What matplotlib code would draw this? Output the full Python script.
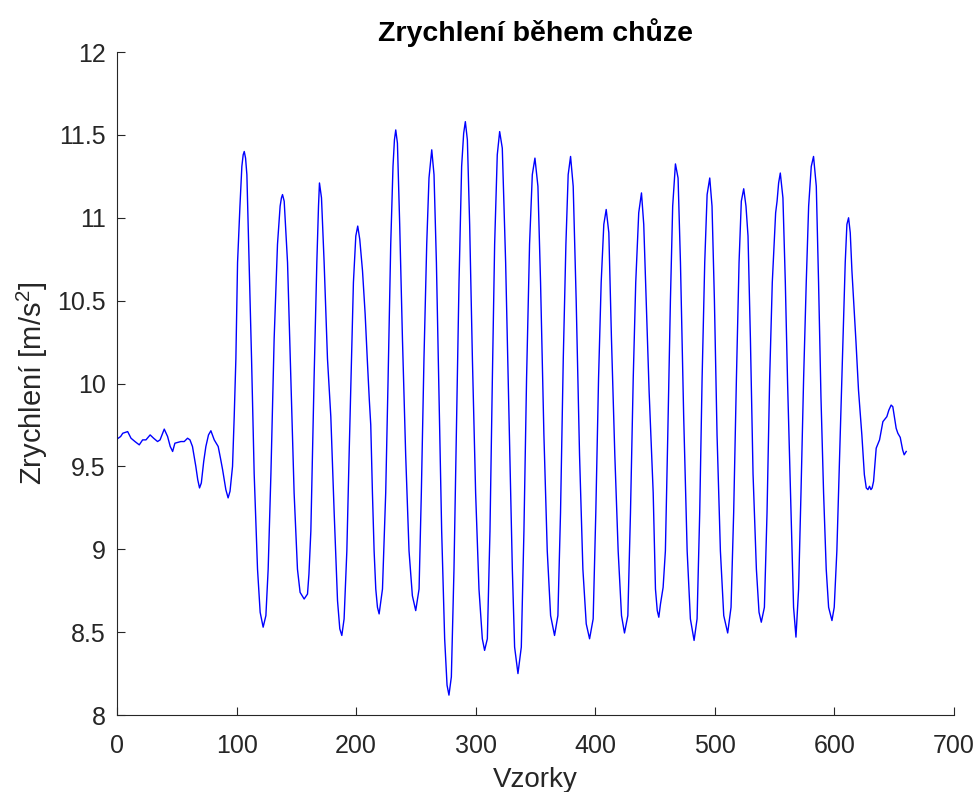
import numpy as np
import matplotlib
matplotlib.use("Agg")
import matplotlib.pyplot as plt

plt.rcParams['font.family'] = ['Liberation Sans', 'DejaVu Sans']
plt.rcParams['mathtext.fontset'] = 'custom'
plt.rcParams['mathtext.rm'] = 'Liberation Sans'
plt.rcParams['mathtext.it'] = 'Liberation Sans:italic'

# klidový úsek na začátku
start_x = [1, 3, 4.8, 8.9, 11.7, 15, 18.6, 21.4, 24.2, 27.7, 30.6, 33.9, 36, 39.5,
           42.3, 44.5, 46.5, 48.4, 53.4, 56.2, 59, 61, 63.1, 65.9, 67.5, 69, 70.5,
           72.5, 74.3, 76.5, 78.5, 81.3, 84.6, 86.5, 88.3, 91]
start_y = [9.67, 9.68, 9.70, 9.71, 9.67, 9.65, 9.63, 9.66, 9.66, 9.69, 9.67, 9.65,
           9.66, 9.725, 9.68, 9.62, 9.59, 9.64, 9.65, 9.65, 9.67, 9.66, 9.62, 9.50,
           9.42, 9.37, 9.40, 9.53, 9.62, 9.69, 9.715, 9.66, 9.62, 9.55, 9.48, 9.36]

# chůze
walk_x = [92.9, 94.5, 96.6, 98.0, 99.4, 100.8, 102.8, 104.4, 105.5, 106.4, 107.5, 108.6,
          110.5, 112.5, 114.7, 117.5, 119.7, 122.2, 124.5, 126.4, 128.7, 131.4, 134.2,
          136.4, 137.5, 138.4, 139.8, 142.6, 145.4, 148.1, 150.9, 153.1, 156.5, 159.3,
          160.5, 162.1, 164.8, 167.1, 168.5, 169.3, 171.0, 173.2, 176.0, 178.8, 181.6,
          184.4, 186.3, 188.0, 189.9, 192.2, 194.1, 196.1, 197.7, 199.7, 201.3, 203.0,
          205.3, 207.5, 209.4, 211.0, 212.2, 213.6, 215.0, 216.4, 217.8, 219.2, 222.0,
          224.7, 226.7, 228.9, 230.8, 232.0, 233.1, 234.5, 236.4, 238.7, 241.4, 244.2,
          247.0, 249.8, 252.6, 254.5, 256.7, 259.0, 260.9, 263.2, 265.1, 267.1, 269.3,
          271.5, 274.0, 276.0, 277.6, 279.6, 281.8, 284.0, 286.0, 288.2, 289.9, 291.3,
          293.0, 294.9, 297.2, 299.9, 302.7, 305.5, 307.4, 309.7, 311.9, 313.9, 315.8,
          318.0, 320.0, 322.2, 325.0, 327.8, 330.6, 332.5, 335.3, 338.1, 340.3, 342.5,
          345.0, 347.3, 349.5, 352.0, 354.2, 357.0, 359.8, 362.6, 365.9, 368.7, 370.9,
          373.2, 375.4, 377.3, 379.3, 381.5, 384.0, 386.8, 389.6, 392.4, 395.2, 398.2,
          400.4, 402.7, 404.9, 407.1, 409.1, 411.3, 413.5, 416.3, 419.1, 421.9, 424.4,
          427.2, 429.4, 431.7, 433.8, 436.3, 438.6, 440.5, 442.8, 445.0, 447.0, 448.4,
          450.3, 451.8, 453.1, 454.5, 456.7, 458.6, 460.6, 462.8, 464.7, 467.0, 469.2,
          471.2, 473.9, 476.8, 479.5, 482.6, 485.1, 487.3, 489.3, 491.5, 493.5, 495.7,
          497.6, 499.6, 501.8, 504.6, 507.4, 510.7, 513.5, 515.7, 518.0, 520.2, 522.1,
          524.1, 526.0, 527.7, 529.7, 531.9, 534.7, 536.9, 538.8, 541.4, 543.6, 545.8,
          548.0, 550.8, 552.0, 553.3, 554.7, 556.9, 558.9, 560.8, 562.8, 564.5, 565.8,
          567.8, 570.0, 572.0, 574.2, 576.4, 578.4, 580.6, 582.5, 584.8, 586.7, 588.7,
          590.9, 593.1, 595.1, 597.9, 599.8, 602.0, 604.8, 607.1, 609.0, 610.4, 611.8]
walk_y = [9.31, 9.35, 9.50, 9.80, 10.15, 10.73, 11.07, 11.31, 11.38, 11.40, 11.36, 11.26,
          10.73, 10.15, 9.455, 8.88, 8.62, 8.53, 8.60, 8.88, 9.455, 10.27, 10.84,
          11.07, 11.12, 11.14, 11.10, 10.73, 10.03, 9.34, 8.88, 8.74, 8.70, 8.73,
          8.85, 9.11, 10.03, 10.73, 11.07, 11.21, 11.12, 10.73, 10.15, 9.80, 9.22,
          8.69, 8.52, 8.48, 8.58, 8.99, 9.57, 10.15, 10.61, 10.89, 10.95, 10.87,
          10.68, 10.42, 10.13, 9.90, 9.75, 9.34, 8.99, 8.76, 8.65, 8.61, 8.76,
          9.34, 10.03, 10.84, 11.31, 11.47, 11.53, 11.45, 10.96, 10.27, 9.57, 8.99,
          8.72, 8.63, 8.76, 9.34, 10.15, 10.84, 11.24, 11.41, 11.26, 10.73, 9.92,
          9.11, 8.46, 8.18, 8.12, 8.23, 8.88, 9.80, 10.61, 11.31, 11.51, 11.58,
          11.47, 10.96, 10.15, 9.34, 8.76, 8.46, 8.39, 8.46, 9.11, 10.03, 10.84,
          11.38, 11.52, 11.42, 10.73, 9.80, 8.88, 8.41, 8.25, 8.41, 9.11, 10.03,
          10.84, 11.26, 11.36, 11.19, 10.61, 9.69, 8.99, 8.60, 8.48, 8.60, 9.22,
          10.15, 10.84, 11.26, 11.37, 11.19, 10.50, 9.57, 8.88, 8.55, 8.46, 8.58,
          9.22, 10.03, 10.61, 10.96, 11.05, 10.91, 10.27, 9.57, 8.99, 8.60, 8.495,
          8.60, 9.22, 10.03, 10.61, 11.03, 11.15, 10.96, 10.45, 9.95, 9.60, 9.34,
          8.76, 8.63, 8.59, 8.67, 8.77, 8.99, 9.69, 10.50, 11.07, 11.325, 11.24,
          10.73, 9.80, 8.99, 8.58, 8.45, 8.58, 9.22, 10.03, 10.73, 11.14, 11.24,
          11.07, 10.50, 9.69, 8.99, 8.60, 8.495, 8.65, 9.22, 10.03, 10.73, 11.10,
          11.175, 11.07, 10.89, 10.27, 9.455, 8.88, 8.62, 8.56, 8.65, 9.22, 10.03,
          10.61, 11.03, 11.10, 11.21, 11.27, 11.12, 10.61, 10.00, 9.45, 8.99, 8.65,
          8.47, 8.76, 9.34, 10.03, 10.61, 11.07, 11.31, 11.37, 11.19, 10.61, 9.92,
          9.34, 8.88, 8.65, 8.57, 8.65, 8.99, 9.69, 10.27, 10.73, 10.96, 11.00]

# doběh na konci
end_x = [613.2, 614.6, 616.0, 618.0, 620.1, 622.9, 625.0, 626.6, 628.0, 629.3, 630.5,
         631.5, 632.7, 634.9, 637.7, 640.5, 643.8, 645.5, 647.4, 648.8, 651.6, 653.0,
         655.0, 657.0, 658.3, 659.1, 660.0]
end_y = [10.91, 10.68, 10.50, 10.25, 9.96, 9.69, 9.45, 9.37, 9.36, 9.38, 9.36,
         9.37, 9.41, 9.61, 9.66, 9.77, 9.80, 9.84, 9.87, 9.86, 9.73, 9.70,
         9.675, 9.60, 9.57, 9.58, 9.59]

x_ticks = [0, 100, 200, 300, 400, 500, 600, 700]
y_ticks = [8, 8.5, 9, 9.5, 10, 10.5, 11, 11.5, 12]
y_tick_labels = ['8', '8.5', '9', '9.5', '10', '10.5', '11', '11.5', '12']

x = np.concatenate([start_x, walk_x, end_x])
y = np.concatenate([start_y, walk_y, end_y])

fig = plt.figure(figsize=(9.76, 7.92), dpi=100)
ax = fig.add_axes([0.1199, 0.0972, 0.8576, 0.8371])

ax.plot(x, y, color=(0, 0, 1), linewidth=1.0, solid_joinstyle='round')

ax.set_xlim(0, 700)
ax.set_ylim(8, 12)
ax.set_xticks(x_ticks)
ax.set_yticks(y_ticks)
ax.set_yticklabels(y_tick_labels)

axcol = (0.15, 0.15, 0.15)
for s in ['top', 'right']:
    ax.spines[s].set_visible(False)
for s in ['left', 'bottom']:
    ax.spines[s].set_color(axcol)
    ax.spines[s].set_linewidth(0.8)
ax.tick_params(axis='both', direction='in', length=6, width=0.8,
               colors=axcol, labelsize=18)
ax.tick_params(axis='x', pad=14)
ax.tick_params(axis='y', pad=8)

ax.set_title('Zrychlení během chůze', fontsize=20.5, fontweight='bold', pad=8)
ax.set_xlabel('Vzorky', fontsize=20, color=axcol, labelpad=6)
ax.set_ylabel('Zrychlení [m/s$^2$]', fontsize=21, color=axcol, labelpad=5)

fig.savefig('out.png', dpi=100)
